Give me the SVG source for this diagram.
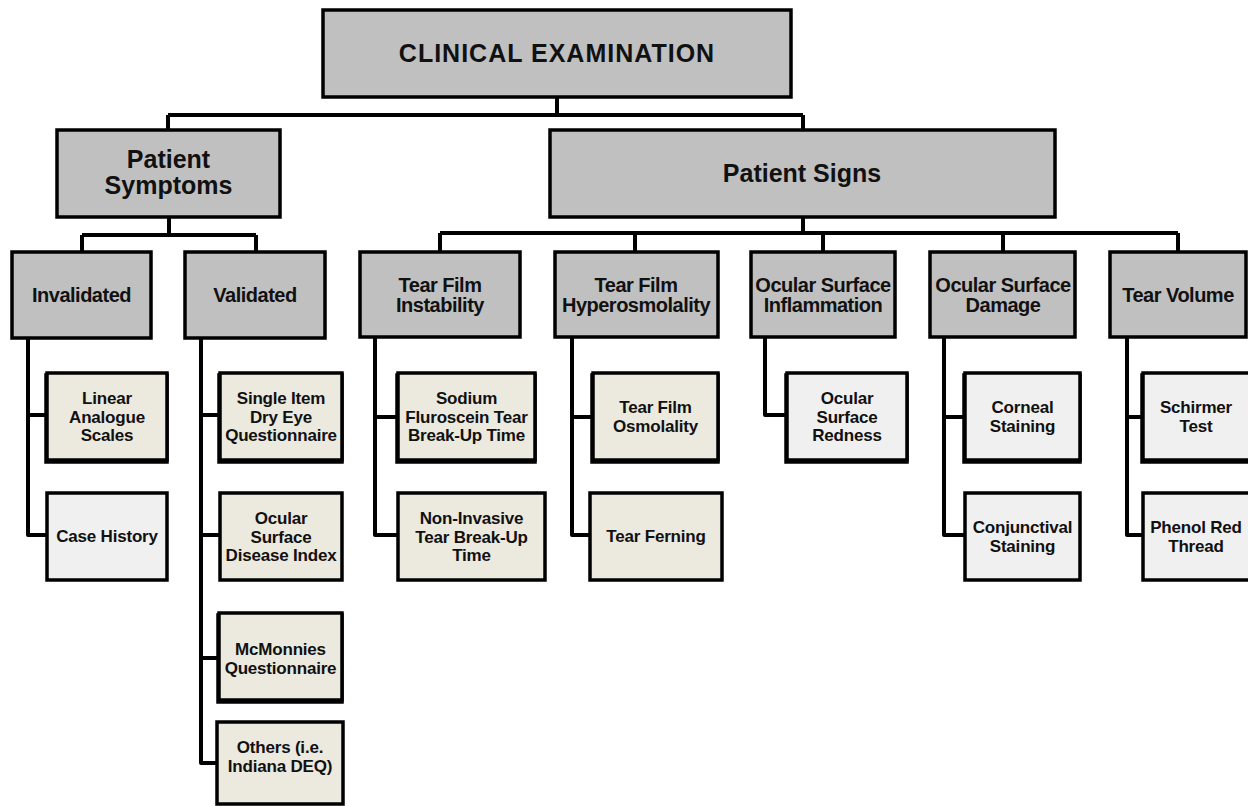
<svg xmlns="http://www.w3.org/2000/svg" width="1248" height="806" viewBox="0 0 1248 806">
<style>
.hd{fill:#c0c0c0;stroke:#000;stroke-width:3.5}
.bg{fill:#ece9df;stroke:#000;stroke-width:3.5}
.lg{fill:#f0f0f0;stroke:#000;stroke-width:3.5}
.sd{fill:#000;stroke:#000;stroke-width:3.5}
.c{fill:none;stroke:#000;stroke-width:4;stroke-linejoin:round}
text{font-family:"Liberation Sans",Arial,sans-serif;font-weight:bold;text-anchor:middle;fill:#111}
.t1{font-size:25px;letter-spacing:1px}
.t2{font-size:25px}
.t3{font-size:20px;letter-spacing:-0.5px}
.t4{font-size:17px;letter-spacing:-0.2px}
</style>
<rect width="1248" height="806" fill="#fff"/>
<g id="connectors">
<path class="c" d="M557 97V115M168 115H803M168 115V130M803 115V130"/>
<path class="c" d="M169 217V235M82 235H256M82 235V252M256 235V252"/>
<path class="c" d="M803 217V233M440 233H1178M440 233V252M635 233V252M823 233V252M1003 233V252M1178 233V252"/>
<path class="c" d="M28 338V535H47M28 415H47"/>
<path class="c" d="M201 338V763H219M201 415H220M201 535H220M201 658H219"/>
<path class="c" d="M375 337V535H398M375 417H398"/>
<path class="c" d="M572 337V535H590M572 417H593"/>
<path class="c" d="M765 337V415H787"/>
<path class="c" d="M944 337V535H965M944 417H965"/>
<path class="c" d="M1127 337V535H1143M1127 417H1143"/>
</g>
<g id="clinical-examination"><rect class="hd" x="323" y="10" width="468" height="87"/><text class="t1" x="557" y="62">CLINICAL EXAMINATION</text></g>
<g id="patient-symptoms"><rect class="hd" x="57" y="130" width="223" height="87"/><text class="t2" x="168.5" y="168">Patient</text><text class="t2" x="168.5" y="194">Symptoms</text></g>
<g id="patient-signs"><rect class="hd" x="550" y="130" width="505" height="87"/><text class="t2" x="802" y="182">Patient Signs</text></g>
<g id="invalidated"><rect class="hd" x="12" y="252" width="139" height="86"/><text class="t3" x="81.5" y="302">Invalidated</text></g>
<g id="validated"><rect class="hd" x="185" y="252" width="140" height="86"/><text class="t3" x="255" y="302">Validated</text></g>
<g id="tear-film-instability"><rect class="hd" x="360" y="252" width="160" height="85"/><text class="t3" x="440" y="292">Tear Film</text><text class="t3" x="440" y="312">Instability</text></g>
<g id="tear-film-hyperosmolality"><rect class="hd" x="555" y="252" width="163" height="85"/><text class="t3" x="636" y="292">Tear Film</text><text class="t3" x="636" y="312">Hyperosmolality</text></g>
<g id="ocular-surface-inflammation"><rect class="hd" x="751" y="252" width="144" height="85"/><text class="t3" x="823" y="292">Ocular Surface</text><text class="t3" x="823" y="312">Inflammation</text></g>
<g id="ocular-surface-damage"><rect class="hd" x="930" y="252" width="145" height="85"/><text class="t3" x="1003" y="292">Ocular Surface</text><text class="t3" x="1003" y="312">Damage</text></g>
<g id="tear-volume"><rect class="hd" x="1110" y="252" width="136" height="85"/><text class="t3" x="1178" y="302">Tear Volume</text></g>
<g id="linear-analogue-scales"><rect class="sd" x="46" y="375" width="121" height="87"/><rect class="bg" x="47" y="373" width="120" height="87"/><text class="t4" x="107" y="404">Linear</text><text class="t4" x="107" y="422.5">Analogue</text><text class="t4" x="107" y="441">Scales</text></g>
<g id="case-history"><rect class="lg" x="47" y="493" width="120" height="87"/><text class="t4" x="107" y="542">Case History</text></g>
<g id="single-item-dry-eye"><rect class="sd" x="219" y="375" width="123" height="87"/><rect class="bg" x="220" y="373" width="122" height="87"/><text class="t4" x="281" y="404">Single Item</text><text class="t4" x="281" y="422.5">Dry Eye</text><text class="t4" x="281" y="441">Questionnaire</text></g>
<g id="osdi"><rect class="bg" x="220" y="493" width="122" height="87"/><text class="t4" x="281" y="524">Ocular</text><text class="t4" x="281" y="542.5">Surface</text><text class="t4" x="281" y="561">Disease Index</text></g>
<g id="mcmonnies"><rect class="sd" x="218" y="615" width="124" height="87"/><rect class="bg" x="219" y="613" width="123" height="87"/><text class="t4" x="280.5" y="655">McMonnies</text><text class="t4" x="280.5" y="674">Questionnaire</text></g>
<g id="others"><rect class="bg" x="217" y="722" width="126" height="82"/><text class="t4" x="280" y="753">Others (i.e.</text><text class="t4" x="280" y="772">Indiana DEQ)</text></g>
<g id="sodium-fluroscein"><rect class="sd" x="397" y="375" width="138" height="87"/><rect class="bg" x="398" y="373" width="137" height="87"/><text class="t4" x="466.5" y="404">Sodium</text><text class="t4" x="466.5" y="422.5">Fluroscein Tear</text><text class="t4" x="466.5" y="441">Break-Up Time</text></g>
<g id="non-invasive"><rect class="bg" x="398" y="493" width="147" height="87"/><text class="t4" x="471.5" y="524">Non-Invasive</text><text class="t4" x="471.5" y="542.5">Tear Break-Up</text><text class="t4" x="471.5" y="561">Time</text></g>
<g id="tear-film-osmolality"><rect class="sd" x="592" y="375" width="126" height="87"/><rect class="bg" x="593" y="373" width="125" height="87"/><text class="t4" x="655.5" y="413">Tear Film</text><text class="t4" x="655.5" y="432">Osmolality</text></g>
<g id="tear-ferning"><rect class="bg" x="590" y="493" width="132" height="87"/><text class="t4" x="656" y="542">Tear Ferning</text></g>
<g id="ocular-surface-redness"><rect class="sd" x="786" y="375" width="121" height="87"/><rect class="lg" x="787" y="373" width="120" height="87"/><text class="t4" x="847" y="404">Ocular</text><text class="t4" x="847" y="422.5">Surface</text><text class="t4" x="847" y="441">Redness</text></g>
<g id="corneal-staining"><rect class="sd" x="964" y="375" width="116" height="87"/><rect class="lg" x="965" y="373" width="115" height="87"/><text class="t4" x="1022.5" y="413">Corneal</text><text class="t4" x="1022.5" y="432">Staining</text></g>
<g id="conjunctival-staining"><rect class="lg" x="965" y="493" width="115" height="87"/><text class="t4" x="1022.5" y="533">Conjunctival</text><text class="t4" x="1022.5" y="552">Staining</text></g>
<g id="schirmer-test"><rect class="sd" x="1142" y="375" width="111" height="87"/><rect class="lg" x="1143" y="373" width="110" height="87"/><text class="t4" x="1196" y="413">Schirmer</text><text class="t4" x="1196" y="432">Test</text></g>
<g id="phenol-red-thread"><rect class="lg" x="1143" y="493" width="110" height="87"/><text class="t4" x="1196" y="533">Phenol Red</text><text class="t4" x="1196" y="552">Thread</text></g>
</svg>
